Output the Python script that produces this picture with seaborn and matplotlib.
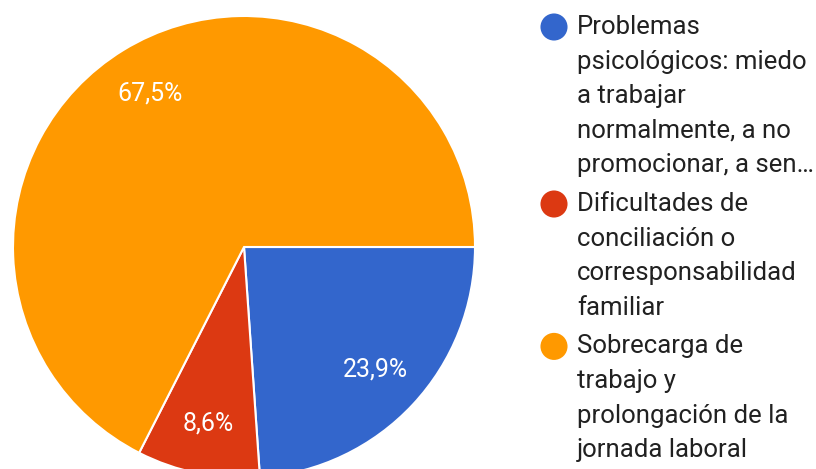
import seaborn as sns
import matplotlib.pyplot as plt

# Datos
categorias = [
    'Problemas\npsicológicos: miedo\na trabajar\nnormalmente, a no\npromocionar, a sen…',
    'Dificultades de\nconciliación o\ncorresponsabilidad\nfamiliar',
    'Sobrecarga de\ntrabajo y\nprolongación de la\njornada laboral',
]
porcentajes = [23.9, 8.6, 67.5]
colores = ['#3366CC', '#DC3912', '#FF9900']

sns.set_theme(style='white')
plt.rcParams['font.family'] = ['Roboto', 'DejaVu Sans']

W, H = 816, 469
fig = plt.figure(figsize=(W / 100, H / 100), dpi=100)

# Tarta: centro (244, 247) px, radio 231 px
cx, cy, r = 244, 247, 231
ax = fig.add_axes([0, 0, 1, 1])
wedges, textos, autotextos = ax.pie(
    porcentajes, colors=colores, startangle=0, counterclock=False,
    autopct=lambda p: f'{p:.1f}%'.replace('.', ','), pctdistance=0.78,
    wedgeprops=dict(edgecolor='white', linewidth=1.5),
    textprops=dict(color='white', fontsize=18))
ax.set_xlim(-cx / r, (W - cx) / r)
ax.set_ylim(-(H - cy) / r, cy / r)
ax.axis('off')

# Leyenda manual (marcador alineado con la primera línea)
lg = fig.add_axes([0, 0, 1, 1])
lg.set_xlim(0, W)
lg.set_ylim(H, 0)
lg.axis('off')
line_h = 34.6
y = 27
for cat, col in zip(categorias, colores):
    lg.scatter([554], [y], s=380, color=col, edgecolors='none')
    for i, linea in enumerate(cat.split('\n')):
        lg.text(577, y + i * line_h, linea, fontsize=18.5, color='#212121',
                va='center', ha='left')
    y += len(cat.split('\n')) * line_h + 4

fig.savefig('out.png', dpi=100)
